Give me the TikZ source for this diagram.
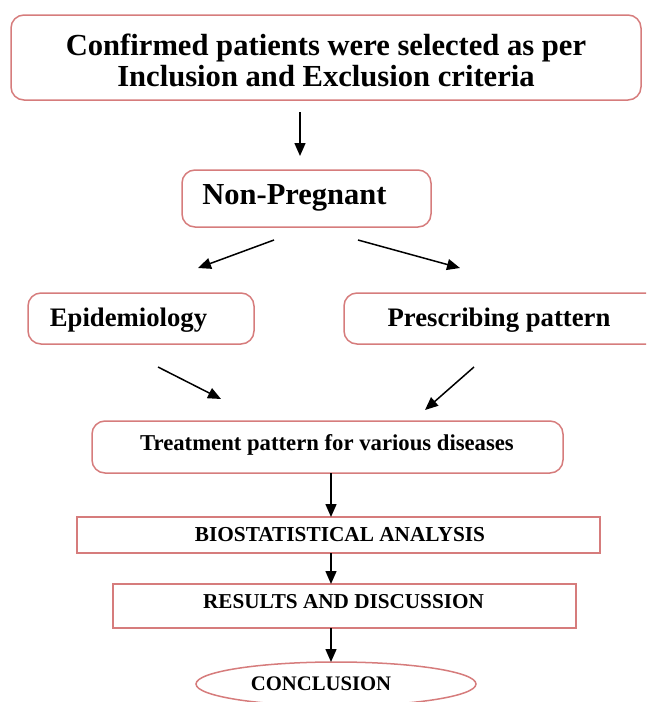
\documentclass[tikz,border=0pt]{standalone}
\usepackage{fontspec}
\setmainfont{Liberation Serif}
\usetikzlibrary{arrows.meta,shapes.geometric}
\definecolor{boxred}{RGB}{214,124,124}
\begin{document}
\begin{tikzpicture}[x=1pt,y=-1pt,
  rbox/.style={draw=boxred, line width=1.5pt, rounded corners=13pt, inner sep=0pt},
  sbox/.style={draw=boxred, line width=1.5pt, inner sep=0pt},
  lbl/.style={inner sep=0pt, text=black},
  arr/.style={line width=1.5pt, -{Triangle[length=13pt,width=11pt]}}]
\useasboundingbox (0,0) rectangle (646,702);
\clip (0,0) rectangle (646,702);
% boxes
\node[rbox, minimum width=630pt, minimum height=85pt] (top) at (326,57.5) {};
\node[lbl, align=center, font=\bfseries\fontsize{30.6}{31}\selectfont] (toptxt) at (326,60) {Confirmed patients were selected as per\\Inclusion and Exclusion criteria};
\node[rbox, minimum width=249pt, minimum height=57pt] (np) at (306.5,198.5) {};
\node[lbl, font=\bfseries\fontsize{30.5}{32}\selectfont] (nptxt) at (294.5,198) {Non-Pregnant};
\node[rbox, minimum width=226pt, minimum height=51pt] (epi) at (141,318.5) {};
\node[lbl, font=\bfseries\fontsize{26.7}{29}\selectfont] (epitxt) at (128.5,320) {Epidemiology};
\node[rbox, minimum width=316pt, minimum height=51pt] (pre) at (502,318.5) {};
\node[lbl, font=\bfseries\fontsize{26.7}{29}\selectfont] (pretxt) at (499,320) {Prescribing pattern};
\node[rbox, minimum width=471pt, minimum height=52pt] (treat) at (327.5,447) {};
\node[lbl, font=\bfseries\fontsize{22.7}{24}\selectfont] (treattxt) at (327,444.5) {Treatment pattern for various diseases};
\node[sbox, minimum width=523pt, minimum height=36pt] (bio) at (338.5,535) {};
\node[lbl, font=\bfseries\fontsize{21.3}{23}\selectfont] (biotxt) at (340,535) {BIOSTATISTICAL ANALYSIS};
\node[sbox, minimum width=463pt, minimum height=44pt] (res) at (344.5,606) {};
\node[lbl, font=\bfseries\fontsize{21.2}{23}\selectfont] (restxt) at (343.5,601.5) {RESULTS AND DISCUSSION};
\node[draw=boxred, line width=1.5pt, ellipse, inner sep=0pt, minimum width=280pt, minimum height=44pt] (conc) at (336,684) {};
\node[lbl, font=\bfseries\fontsize{20.7}{23}\selectfont] (conctxt) at (321,684) {CONCLUSION};
% arrow end points
\coordinate (a1s) at (300,112); \coordinate (a1e) at (300,156);
\coordinate (a2s) at (274,240); \coordinate (a2e) at (198,268);
\coordinate (a3s) at (358,240); \coordinate (a3e) at (460,268);
\coordinate (a4s) at (158,367); \coordinate (a4e) at (221,399);
\coordinate (a5s) at (474,367); \coordinate (a5e) at (425,410);
\coordinate (a6s) at (331,473); \coordinate (a6e) at (331,517);
\coordinate (a7s) at (331,553); \coordinate (a7e) at (331,584);
\coordinate (a8s) at (331,628); \coordinate (a8e) at (331,662);
\draw[arr] (a1s) -- (a1e);
\draw[arr] (a2s) -- (a2e);
\draw[arr] (a3s) -- (a3e);
\draw[arr] (a4s) -- (a4e);
\draw[arr] (a5s) -- (a5e);
\draw[arr] (a6s) -- (a6e);
\draw[arr] (a7s) -- (a7e);
\draw[arr] (a8s) -- (a8e);
\end{tikzpicture}
\end{document}
